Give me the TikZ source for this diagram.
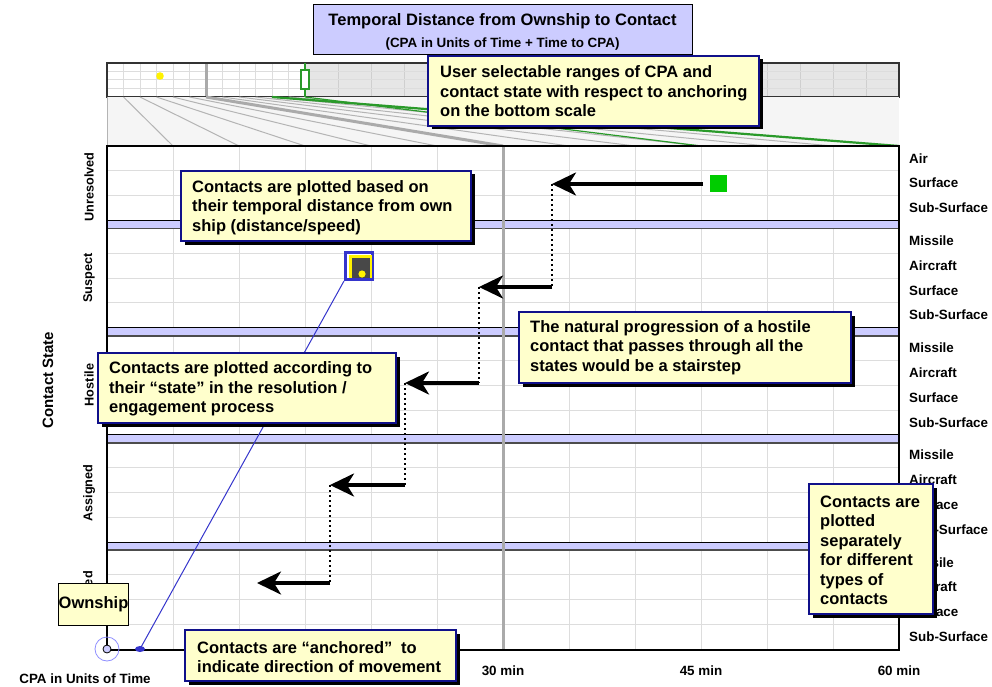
\documentclass[tikz,border=0pt]{standalone}
\usepackage{fontspec}
\setmainfont{Liberation Sans}
\usetikzlibrary{arrows.meta,shadows,shapes.geometric}
\definecolor{lav}{HTML}{CCCCFF}
\definecolor{notey}{HTML}{FFFFCC}
\definecolor{navyc}{HTML}{10108A}
\definecolor{gridc}{HTML}{DDDDDD}
\definecolor{scalegray}{HTML}{E6E6E6}
\definecolor{fangray}{HTML}{F5F5F5}
\definecolor{fanline}{HTML}{B4B4B4}
\definecolor{thickgray}{HTML}{AAAAAA}
\definecolor{selgreen}{HTML}{2A9A2A}
\definecolor{contactgreen}{HTML}{00CC00}
\definecolor{trackblue}{HTML}{3535CC}
\definecolor{darkbox}{HTML}{484848}
\begin{document}
\begin{tikzpicture}[x=1pt,y=-1pt,
  bigtxt/.style={font=\fontsize{16.5}{19.5}\selectfont\bfseries, inner sep=0pt},
  smalltxt/.style={font=\fontsize{13.4}{15}\selectfont\bfseries, inner sep=0pt},
  callout/.style={draw=navyc, fill=notey, line width=1.3pt, inner sep=0pt,
    general shadow={fill=black, shadow xshift=3.5pt, shadow yshift=-3.5pt}},
  notetxt/.style={bigtxt, align=left, anchor=west},
  gridline/.style={draw=gridc, line width=1pt},
  band/.style={fill=lav, draw=none},
  rowlabel/.style={smalltxt, anchor=west},
  statelabel/.style={font=\fontsize{12.7}{14}\selectfont\bfseries, inner sep=0pt, rotate=90},
  stairarrow/.style={-{Stealth[length=24pt,width=23pt,inset=7pt]}, line width=3.5pt},
  stairdots/.style={line width=2.2pt, dash pattern=on 2pt off 3pt},
]
\useasboundingbox (0,0) rectangle (992,687);

% ---------- title ----------
\node[draw=black, fill=lav, line width=1pt, minimum width=379, minimum height=50, inner sep=0pt] (title) at (502.5,30) {};
\node[bigtxt] (titleA) at (502.5,21) {Temporal Distance from Ownship to Contact};
\node[smalltxt] (titleB) at (502.5,44) {(CPA in Units of Time + Time to CPA)};

% ---------- selection scale on top ----------
\fill[white] (107,63) rectangle (305,97);
\fill[scalegray] (305,63) rectangle (899,97);
\foreach \gx in {123.5,140,...,289} \draw[gridline] (\gx,63) -- (\gx,97);
\foreach \gx in {338,371,...,866} \draw[draw=gridc!85!gray, line width=1pt] (\gx,63) -- (\gx,97);
\foreach \gy in {71.5,80,88.5} \draw[gridline] (107,\gy) -- (899,\gy);
\draw[thickgray, line width=3pt] (206,63) -- (206,97);
\draw[black!80, line width=1.5pt] (107,63) rectangle (899,97);
\fill[yellow] (160,76) circle (3.8);

% ---------- fan mapping top scale to bottom plot ----------
\fill[fangray] (107,97) rectangle (899,146);
\draw[fanline, line width=1pt] (107,97) -- (107,146);
\foreach \k in {1,2,3,4,5,7,8,9,10,11}
  \draw[fanline, line width=1pt] ({107+16.5*\k},97) -- ({107+66*\k},146);
\draw[thickgray, line width=3pt] (206,97) -- (503,146);
\draw[selgreen, line width=1.2pt] (305,97) -- (701,146);
\draw[selgreen, line width=2.2pt] (272,97) -- (899,146);
% range handle
\draw[selgreen, line width=2pt] (305,63) -- (305,70) (305,89) -- (305,97);
\draw[selgreen, line width=1.8pt, fill=white] (301,70) rectangle (309,89);

% ---------- main plot ----------
\fill[white] (107,146) rectangle (899,650);
\foreach \gx in {173,239,...,833} \draw[gridline] (\gx,146) -- (\gx,650);
\foreach \gy in {170.8,195.6, 253.2,278,302.8, 360.4,385.2,410, 467.6,492.4,517.2, 574.8,599.6,624.4}
  \draw[gridline] (107,\gy) -- (899,\gy);
\foreach \ta/\tb in {220.4/228.4, 327.6/335.6, 434.8/442.8, 542/550} {
  \fill[band] (107,\ta) rectangle (899,\tb);
  \draw[black, line width=1pt] (107,\ta) -- (899,\ta);
  \draw[black!70, line width=1.8pt] (107,\tb) -- (899,\tb);
}
\draw[thickgray, line width=3pt] (503,146) -- (503,650);
\draw[black, line width=1.5pt] (107,146) -- (899,146) -- (899,650) -- (107,650) -- cycle;

% ---------- contact type labels ----------
\foreach \ly/\lt in {158.4/Air, 183.2/Surface, 208/Sub-Surface,
  240.8/Missile, 265.6/Aircraft, 290.4/Surface, 315.2/Sub-Surface,
  348/Missile, 372.8/Aircraft, 397.6/Surface, 422.4/Sub-Surface,
  455.2/Missile, 480/Aircraft, 504.8/Surface, 529.6/Sub-Surface,
  562.4/Missile, 587.2/Aircraft, 612/Surface, 636.8/Sub-Surface}
  \node[rowlabel] at (909,\ly) {\lt};

% ---------- contact state labels ----------
\node[statelabel] (stU) at (89,187) {Unresolved};
\node[statelabel] (stS) at (89,278) {Suspect};
\node[statelabel] (stH) at (89,385) {Hostile};
\node[statelabel] (stA) at (89,493) {Assigned};
\node[statelabel] (stE) at (89,598) {Engaged};
\node[font=\fontsize{15}{17}\selectfont\bfseries, rotate=90, inner sep=0pt] (axisY) at (48,380) {Contact State};

% ---------- time axis labels ----------
\node[smalltxt] (t30) at (503,671) {30 min};
\node[smalltxt] (t45) at (701,671) {45 min};
\node[smalltxt] (t60) at (899,671) {60 min};
\node[smalltxt] (axisX) at (85,679) {CPA in Units of Time};

% ---------- ownship ----------
\draw[black, line width=1.5pt] (107,625) -- (107,645);
\node[circle, draw=lav!70!blue, line width=0.8pt, minimum size=24, inner sep=0pt] (ownring) at (107,649) {};
\node[circle, draw=black, fill=lav, line width=0.8pt, minimum size=8, inner sep=0pt] (owndot) at (107,649) {};

% ---------- plotted contact and its anchor ----------
\node[ellipse, fill=trackblue, minimum width=10, minimum height=6, inner sep=0pt] (anc) at (140,649) {};
\node[draw=trackblue, fill=white, line width=3pt, minimum size=27, inner sep=0pt] (marker) at (359,266) {};
\draw[trackblue, line width=1pt] (marker.south west) -- (anc.center);
\fill[yellow] (349,255) rectangle (372,278);
\fill[darkbox] (352,258) rectangle (370,278);
\fill[yellow] (362,274) circle (3.6);

% ---------- stairstep track ----------
\node[fill=contactgreen, minimum size=17, inner sep=0pt] (sq) at (718.5,183.5) {};
\coordinate (p0) at (703,184);
\coordinate (c1) at (552,184);
\coordinate (c1b) at (552,287);
\coordinate (c2) at (479,287);
\coordinate (c2b) at (479,383);
\coordinate (c3) at (405,383);
\coordinate (c3b) at (405,485);
\coordinate (c4) at (330,485);
\coordinate (c4b) at (330,583);
\coordinate (c5) at (257,583);
\draw[stairarrow] (p0) -- (c1);
\draw[stairdots] (c1) -- (c1b);
\draw[stairarrow] (c1b) -- (c2);
\draw[stairdots] (c2) -- (c2b);
\draw[stairarrow] (c2b) -- (c3);
\draw[stairdots] (c3) -- (c3b);
\draw[stairarrow] (c3b) -- (c4);
\draw[stairdots] (c4) -- (c4b);
\draw[stairarrow] (c4b) -- (c5);

% ---------- callouts ----------
\node[callout, minimum width=331, minimum height=70] (noteSel) at (593.5,91) {};
\node[notetxt] (noteSelT) at (440,91.3) {User selectable ranges of CPA and\\contact state with respect to anchoring\\on the bottom scale};

\node[callout, minimum width=290, minimum height=70] (noteDist) at (326,206) {};
\node[notetxt] (noteDistT) at (192,207.5) {Contacts are plotted based on\\their temporal distance from own\\ship (distance/speed)};

\node[callout, minimum width=298, minimum height=70] (noteState) at (247,388) {};
\node[notetxt] (noteStateT) at (109,389) {Contacts are plotted according to\\their “state” in the resolution /\\engagement process};

\node[callout, minimum width=332, minimum height=71] (noteStair) at (685,347.5) {};
\node[notetxt] (noteStairT) at (530,347.5) {The natural progression of a hostile\\contact that passes through all the\\states would be a stairstep};

\node[callout, minimum width=124, minimum height=130] (noteType) at (871,549) {};
\node[notetxt] (noteTypeT) at (820,550.5) {Contacts are\\plotted\\separately\\for different\\types of\\contacts};

\node[callout, minimum width=271, minimum height=51] (noteAnc) at (320.5,655.5) {};
\node[notetxt] (noteAncT) at (197,657) {Contacts are “anchored”\hspace{0.25em} to\\indicate direction of movement};

\node[draw=black, fill=notey, line width=0.8pt, minimum width=69, minimum height=42, inner sep=0pt, bigtxt] (own) at (93.5,604) {Ownship};
\end{tikzpicture}
\end{document}
